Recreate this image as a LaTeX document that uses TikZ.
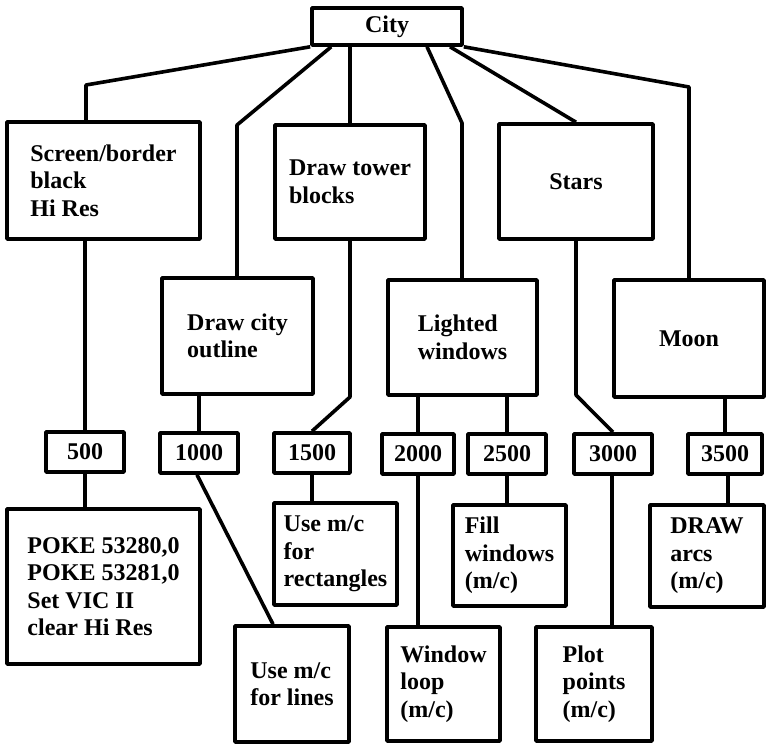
\documentclass[tikz,border=0pt]{standalone}
\usepackage{fontspec}
\setmainfont{Liberation Serif}
\begin{document}
\begin{tikzpicture}[x=1pt,y=-1pt,
  every node/.style={font=\bfseries\fontsize{24}{27.5}\selectfont},
  box/.style={draw,line width=3.6pt,rectangle,align=left,inner sep=0pt,line join=round},
  conn/.style={line width=3.6pt,line join=round}]
\useasboundingbox (0,0) rectangle (767,744);
% level 0
\node[box,minimum width=150pt,minimum height=37pt] (city) at (387,26.5) {City};
% level 1
\node[box,minimum width=193pt,minimum height=117pt] (screen) at (103.5,180.5) {Screen/border\\black\\Hi Res};
\node[box,minimum width=150pt,minimum height=114pt] (tower) at (350,182) {Draw tower\\blocks};
\node[box,minimum width=154pt,minimum height=115pt] (stars) at (576,181.5) {Stars};
\node[box,minimum width=151pt,minimum height=116pt] (outline) at (237.5,336) {Draw city\\outline};
\node[box,minimum width=149pt,minimum height=115pt] (lighted) at (462.5,337.5) {Lighted\\windows};
\node[box,minimum width=150pt,minimum height=117pt] (moon) at (689,338.5) {Moon};
% numbers
\node[box,minimum width=78pt,minimum height=40pt] (n500) at (85,452) {500};
\node[box,minimum width=78pt,minimum height=40pt] (n1000) at (199,453) {1000};
\node[box,minimum width=76pt,minimum height=40pt] (n1500) at (312,453) {1500};
\node[box,minimum width=72pt,minimum height=40pt] (n2000) at (418,454) {2000};
\node[box,minimum width=78pt,minimum height=40pt] (n2500) at (507,454) {2500};
\node[box,minimum width=78pt,minimum height=40pt] (n3000) at (613,454) {3000};
\node[box,minimum width=74pt,minimum height=40pt] (n3500) at (725,454) {3500};
% leaves
\node[box,minimum width=193pt,minimum height=155pt] (poke) at (103.5,586.5) {POKE 53280,0\\POKE 53281,0\\Set VIC II\\clear Hi Res};
\node[box,minimum width=123pt,minimum height=102pt] (rect) at (335.5,554) {Use m/c\\for\\rectangles};
\node[box,minimum width=114pt,minimum height=116pt] (lines) at (292,684) {Use m/c\\for lines};
\node[box,minimum width=113pt,minimum height=101pt] (fill) at (509.5,555.5) {Fill\\windows\\(m/c)};
\node[box,minimum width=114pt,minimum height=102pt] (drawarcs) at (707,556) {DRAW\\arcs\\(m/c)};
\node[box,minimum width=113pt,minimum height=114pt] (window) at (443.5,684) {Window\\loop\\(m/c)};
\node[box,minimum width=116pt,minimum height=114pt] (plot) at (594,684) {Plot\\points\\(m/c)};
% bend points
\coordinate (b1) at (86,85);
\coordinate (b2) at (237,125);
\coordinate (b4) at (462,123);
\coordinate (b6) at (689,87);
\coordinate (b9) at (350,397);
\coordinate (b11) at (576,395);
% connectors from City
\draw[conn] (city.south west) -- (b1) -- (b1 |- screen.north);
\draw[conn] ([xshift=21pt]city.south west) -- (b2) -- (b2 |- outline.north);
\draw[conn] (city.south -| tower.north) -- (tower.north);
\draw[conn] ([xshift=40pt]city.south) -- (b4) -- (b4 |- lighted.north);
\draw[conn] ([xshift=63pt]city.south) -- (stars.north);
\draw[conn] (city.south east) -- (b6) -- (moon.north);
% level 1 to numbers
\draw[conn] (screen.south -| n500.north) -- (n500.north);
\draw[conn] (outline.south -| n1000.north) -- (n1000.north);
\draw[conn] (tower.south) -- (b9) -- (n1500.north);
\draw[conn] (lighted.south -| n2000.north) -- (n2000.north);
\draw[conn] (lighted.south -| n2500.north) -- (n2500.north);
\draw[conn] (stars.south) -- (b11) -- (n3000.north);
\draw[conn] (moon.south -| n3500.north) -- (n3500.north);
% numbers to leaves
\draw[conn] (n500.south) -- (n500.south |- poke.north);
\draw[conn] ([xshift=-2pt]n1000.south) -- ([xshift=-19pt]lines.north);
\draw[conn] (n1500.south) -- (n1500.south |- rect.north);
\draw[conn] (n2000.south) -- (n2000.south |- window.north);
\draw[conn] (n2500.south) -- (n2500.south |- fill.north);
\draw[conn] ([xshift=-1pt]n3000.south) -- ([xshift=-1pt]n3000.south |- plot.north);
\draw[conn] ([xshift=3pt]n3500.south) -- ([xshift=3pt]n3500.south |- drawarcs.north);
\end{tikzpicture}
\end{document}
